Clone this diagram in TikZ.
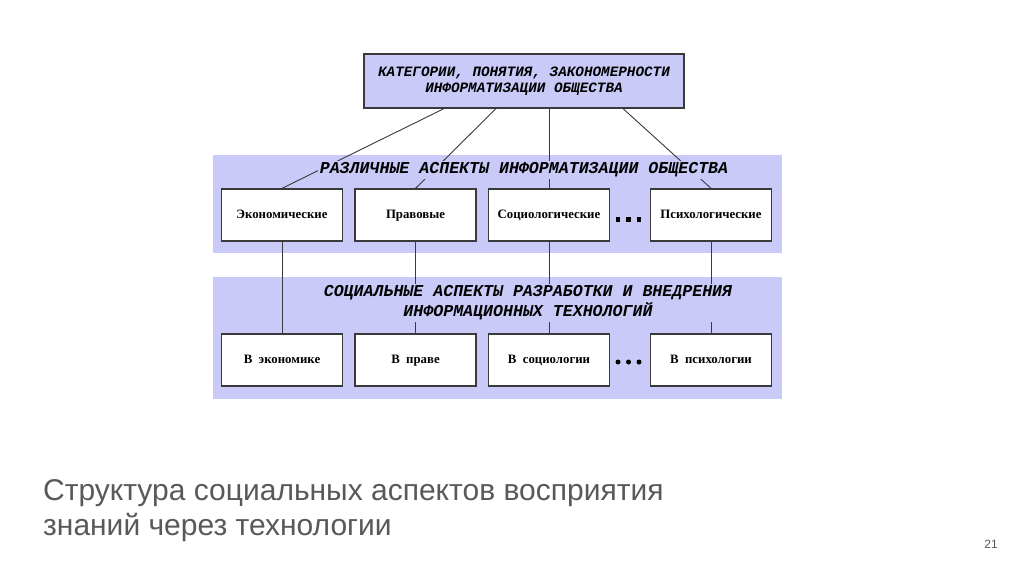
\documentclass[tikz,border=0pt]{standalone}
\usepackage{fontspec}
\setmainfont{Liberation Serif}
\setsansfont{Liberation Sans}
\setmonofont{Liberation Mono}
\definecolor{lav}{HTML}{CACAF8}
\definecolor{edge}{HTML}{3A3A3A}
\definecolor{capgray}{HTML}{595959}
\tikzset{
  band/.style={fill=lav, draw=none, inner sep=0pt},
  topbox/.style={fill=lav, draw=edge, line width=1.2pt, minimum width=320pt, minimum height=54pt, inner sep=0pt, align=center,
    font=\ttfamily\itshape\bfseries\fontsize{14.3}{17}\selectfont},
  title/.style={fill=lav, inner sep=2pt, align=center, font=\ttfamily\itshape\bfseries\fontsize{16.6}{20}\selectfont},
  item/.style={fill=white, draw=edge, line width=1.3pt, minimum width=121pt, minimum height=52pt, inner sep=0pt,
    text height=8.5pt, text depth=2.5pt, font=\bfseries\fontsize{12.8}{14}\selectfont},
  conn/.style={draw=edge, line width=0.9pt},
  dot/.style={fill=black}
}
\begin{document}
\begin{tikzpicture}[x=1pt,y=-1pt]
\useasboundingbox[fill=white] (0,0) rectangle (1024,574);
% bands
\node[band, minimum width=569pt, minimum height=98pt] (b1) at (497.5,204) {};
\node[band, minimum width=569pt, minimum height=122pt] (b2) at (497.5,338) {};
% top box
\node[topbox] (top) at (524,81) {КАТЕГОРИИ, ПОНЯТИЯ, ЗАКОНОМЕРНОСТИ\\[-1pt]ИНФОРМАТИЗАЦИИ ОБЩЕСТВА};
% row 1 boxes
\node[item] (e1) at (282,215) {Экономические};
\node[item] (e2) at (415.5,215) {Правовые};
\node[item] (e3) at (549,215) {Социологические};
\node[item] (e4) at (711,215) {Психологические};
% row 2 boxes
\node[item] (r1) at (282,360) {В\ \ экономике};
\node[item] (r2) at (415.5,360) {В\ \ праве};
\node[item] (r3) at (549,360) {В\ \ социологии};
\node[item] (r4) at (711,360) {В\ \ психологии};
% connectors
\draw[conn] ([xshift=-80pt]top.south) -- (e1.north);
\draw[conn] ([xshift=-28pt]top.south) -- (e2.north);
\draw[conn] ([xshift=25pt]top.south) -- (e3.north);
\draw[conn] ([xshift=99pt]top.south) -- (e4.north);
\draw[conn] (e1.south) -- (r1.north);
\draw[conn] (e2.south) -- (r2.north);
\draw[conn] (e3.south) -- (r3.north);
\draw[conn] (e4.south) -- (r4.north);
% titles over connectors
\node[title] (t1) at (524,170) {РАЗЛИЧНЫЕ АСПЕКТЫ ИНФОРМАТИЗАЦИИ ОБЩЕСТВА};
\node[title] (t2) at (528,303) {СОЦИАЛЬНЫЕ АСПЕКТЫ РАЗРАБОТКИ И ВНЕДРЕНИЯ\\ИНФОРМАЦИОННЫХ ТЕХНОЛОГИЙ};
% dots
\foreach \x in {618,628.5,639}{
  \fill[dot] (\x-2.3,216.5) rectangle (\x+2.3,221.5);
  \fill[dot] (\x,362) circle (2.5pt);
}
% caption
\node[anchor=west, text=capgray, font=\sffamily\fontsize{30}{35}\selectfont, align=left, inner sep=0pt] (cap) at (43,511)
  {Структура социальных аспектов восприятия\\знаний через технологии};
\node[text=capgray, font=\sffamily\fontsize{12}{14}\selectfont, inner sep=0pt] (pg) at (991,544) {21};
\end{tikzpicture}
\end{document}
